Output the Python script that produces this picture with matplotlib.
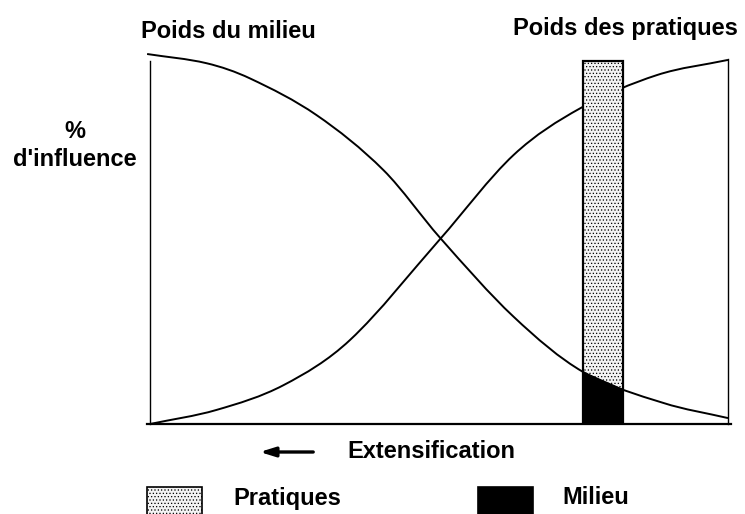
import matplotlib
matplotlib.use('Agg')
import matplotlib.pyplot as plt
import matplotlib.patches as patches
from matplotlib.path import Path

# positions along the extensification axis (0 = left, 100 = right), % d'influence
x_milieu = [-0.5, 9.8, 17.3, 28.8, 40.4, 50.2, 62.9, 74.9, 88.8, 100]
milieu = [100, 97.5, 93.4, 83.5, 68.6, 50.3, 29.0, 14.1, 5.7, 1.6]

x_pratiques = [0, 11.5, 23.1, 34.6, 50.2, 62.9, 74.4, 87.7, 100]
pratiques = [0, 3.8, 10.5, 22.7, 50.0, 72.7, 85.3, 94.3, 98.4]

bar_left, bar_right = 74.9, 81.8
bar_top = 98.0
bar_milieu = [14.1, 9.4]

titles = ['Poids du milieu', 'Poids des pratiques']
legend_labels = ['Pratiques', 'Milieu']

plt.rcParams['font.family'] = ['Liberation Sans', 'DejaVu Sans']
plt.rcParams['hatch.color'] = '#9a9a9a'
plt.rcParams['hatch.linewidth'] = 0.5

W, H = 745, 514
fig = plt.figure(figsize=(W / 100, H / 100), dpi=100)

def fx(px):
    return px / W

def fy(py):
    return 1 - py / H

def smooth_path(xs, ys):
    # hermite curve through the read points (finite-difference slopes), drawn as cubic beziers
    n = len(xs)
    m = []
    for i in range(n):
        a, b = max(i - 1, 0), min(i + 1, n - 1)
        m.append((ys[b] - ys[a]) / (xs[b] - xs[a]))
    verts = [(xs[0], ys[0])]
    codes = [Path.MOVETO]
    for i in range(n - 1):
        h = xs[i + 1] - xs[i]
        verts += [(xs[i] + h / 3, ys[i] + m[i] * h / 3),
                  (xs[i + 1] - h / 3, ys[i + 1] - m[i + 1] * h / 3),
                  (xs[i + 1], ys[i + 1])]
        codes += [Path.CURVE4] * 3
    return Path(verts, codes)

ax = fig.add_axes([fx(150), fy(424), fx(728) - fx(150), fy(54) - fy(424)])
ax.set_xlim(0, 100)
ax.set_ylim(0, 100)
ax.axis('off')

# frame: baseline + two verticals, no top
ax.plot([-0.5, 100.5], [0, 0], color='black', lw=1.6, clip_on=False, zorder=5)
ax.plot([0, 0], [0, 98], color='black', lw=1.0, clip_on=False)
ax.plot([100, 100], [0, 98.6], color='black', lw=1.0, clip_on=False)

ax.add_patch(patches.PathPatch(smooth_path(x_pratiques, pratiques), facecolor='none',
                               edgecolor='black', lw=1.4, clip_on=False, zorder=2))
ax.add_patch(patches.PathPatch(smooth_path(x_milieu, milieu), facecolor='none',
                               edgecolor='black', lw=1.4, clip_on=False, zorder=4))

# stippled bar with the black "milieu" share at its foot
ax.bar(bar_left, bar_top, width=bar_right - bar_left, align='edge',
       facecolor='#f4f4f4', edgecolor='black', hatch='.....', lw=1.6, zorder=3)
ax.fill_between([bar_left, bar_right], 0, bar_milieu, color='black', zorder=3.5)

fs = 17
fig.text(fx(228), fy(32), titles[0], ha='center', va='center', fontsize=fs, fontweight='bold')
fig.text(fx(625), fy(28), titles[1], ha='center', va='center', fontsize=fs, fontweight='bold')
fig.text(fx(75), fy(131), '%', ha='center', va='center', fontsize=fs, fontweight='bold')
fig.text(fx(75), fy(159), "d'influence", ha='center', va='center', fontsize=fs, fontweight='bold')

fig.text(fx(431), fy(452), 'Extensification', ha='center', va='center', fontsize=fs, fontweight='bold')
ax.annotate('', xy=(fx(257), fy(452)), xycoords='figure fraction',
            xytext=(fx(316), fy(452)), textcoords='figure fraction',
            arrowprops=dict(arrowstyle='-|>,head_length=0.9,head_width=0.28', color='black', lw=2.4))

# legend boxes
fig.patches.append(patches.Rectangle((fx(147), fy(518)), fx(202) - fx(147), fy(487) - fy(518),
                                     transform=fig.transFigure, facecolor='#f4f4f4', edgecolor='black',
                                     hatch='.....', lw=1.2))
fig.patches.append(patches.Rectangle((fx(478), fy(518)), fx(533) - fx(478), fy(487) - fy(518),
                                     transform=fig.transFigure, facecolor='black', edgecolor='black', lw=1.2))
fig.text(fx(233), fy(498), legend_labels[0], ha='left', va='center', fontsize=fs, fontweight='bold')
fig.text(fx(562), fy(498), legend_labels[1], ha='left', va='center', fontsize=fs, fontweight='bold')

fig.savefig('out.png', dpi=100)
